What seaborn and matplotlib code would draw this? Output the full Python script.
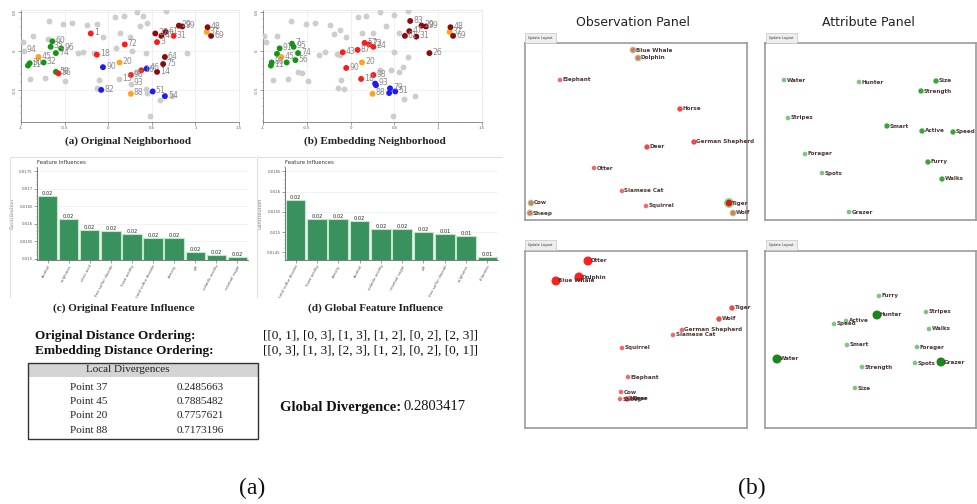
import numpy as np
import pandas as pd
import matplotlib
matplotlib.use("Agg")
import matplotlib.pyplot as plt
import seaborn as sns
from matplotlib.patches import Rectangle
from matplotlib.ticker import MultipleLocator

sns.set_theme(style="white")
plt.rcParams['font.family'] = ['DejaVu Sans']
SERIF = ['Liberation Serif', 'DejaVu Serif']

# ---------------- data: neighborhood scatter (a) ----------------
a_gray_x = [-0.68, -0.52, -0.42, -0.24, -0.13, 0.08, 0.18, 0.33, 0.40, 0.44, 0.36, 0.13, -0.06, 0.25,
            -0.86, -0.98, -0.69, -0.35, -0.29, -0.16, 0.09, 0.27, 0.43, 0.90, 0.66, -0.90, -0.73,
            -0.50, -0.11, 0.12, -0.13, -0.10, 0.43, 0.44, 0.73, 0.59, 0.48, 0.32, -0.97, 0.26]
a_gray_y = [0.38, 0.34, 0.36, 0.33, 0.34, 0.43, 0.44, 0.50, 0.44, 0.36, 0.31, 0.23, 0.18, 0.18,
            0.19, 0.11, 0.15, -0.03, -0.02, -0.03, 0.03, 0.0, -0.03, -0.03, 0.51, -0.36, -0.35,
            -0.39, -0.37, -0.36, -0.48, -0.49, -0.49, -0.54, -0.58, -0.63, -0.83, -0.27, 0.0, -0.42]
a_gray_lab = [""] * 29 + ["15"] + [""] * 8 + ["94", "93"]

a_x = [-0.64, -0.66, -0.54, -0.60, -0.90, -0.92, -0.74, -0.60,
       -0.20, 0.19, 0.56, 0.75, -0.13, 0.26, -0.57, 0.38,
       -0.80, 0.13, 0.26, 1.13,
       -0.06, -0.08, 0.44, 0.51, 0.65,
       0.54, 0.61, 0.66, 0.81, 0.85, 1.14, 1.18, 0.65, 0.63, 0.56]
a_y = [0.12, 0.05, 0.03, -0.03, -0.16, -0.19, -0.15, -0.27,
       0.22, 0.08, 0.11, 0.19, -0.05, -0.31, -0.29, -0.25,
       -0.08, -0.15, -0.55, 0.24,
       -0.21, -0.50, -0.23, -0.52, -0.58,
       0.22, 0.19, 0.24, 0.32, 0.31, 0.30, 0.19, -0.08, -0.17, -0.27]
a_grp = (["green"] * 8 + ["red"] * 8 + ["orange"] * 4 + ["blue"] * 5 + ["darkred"] * 10)
a_lab = ["60", "35", "96", "74", "30", "11", "32", "58",
         "1", "72", "3", "31", "18", "98", "56", "16",
         "45", "20", "88", "37",
         "90", "82", "46", "51", "54",
         "27", "47", "61", "29", "99", "48", "69", "64", "75", "14"]

# ---------------- data: neighborhood scatter (b) ----------------
b_gray_x = [-0.68, -0.51, -0.41, -0.23, -0.19, -0.12, -0.05, 0.08, 0.18, 0.33, 0.49, 0.40, 0.55, 0.65,
            0.50, 0.65, -0.36, -0.29, -0.16, -0.12, 0.13, 0.26, -0.97, -0.84, -0.99, -0.89, -0.71,
            -0.60, -0.56, -0.49, -0.11, -0.14, -0.08, 0.46, 0.55, 0.60, 0.61, 0.74, 0.48, 0.34]
b_gray_y = [0.38, 0.34, 0.36, 0.33, 0.21, 0.26, 0.17, 0.43, 0.44, 0.50, 0.45, 0.31, 0.22, 0.51,
            -0.01, -0.08, -0.05, -0.02, -0.04, -0.05, 0.23, 0.22, 0.11, 0.19, 0.19, -0.37, -0.36,
            -0.27, -0.29, -0.39, -0.38, -0.48, -0.49, -0.24, -0.27, -0.21, -0.62, -0.58, -0.83, -0.24]

b_x = [-0.81, -0.67, -0.65, -0.60, -0.84, -0.90, -0.91, -0.63, -0.73,
       -0.79, 0.13, 0.25, 1.13,
       -0.09, 0.16, 0.21, 0.26, 0.08, -0.05, 0.26, 0.12,
       0.28, 0.29, 0.45, 0.44, 0.51,
       0.68, 0.81, 0.86, 0.67, 0.62, 0.75, 1.14, 1.17, 0.90]
b_y = [0.03, 0.09, 0.05, -0.03, -0.04, -0.15, -0.19, -0.12, -0.15,
       -0.08, -0.15, -0.55, 0.24,
       -0.02, 0.10, 0.08, 0.05, 0.01, -0.22, -0.31, -0.36,
       -0.42, -0.44, -0.48, -0.54, -0.52,
       0.38, 0.32, 0.31, 0.25, 0.19, 0.18, 0.30, 0.19, -0.03]
b_grp = (["green"] * 9 + ["orange"] * 4 + ["red"] * 8 + ["blue"] * 5 + ["darkred"] * 9)
b_lab = ["91", "7", "95", "74", "", "80", "11", "56", "",
         "45", "20", "88", "37",
         "43", "57", "72", "24", "87", "90", "98", "18",
         "93", "", "79", "", "51",
         "83", "29", "99", "47", "61", "31", "48", "69", "26"]

# ---------------- data: feature influences ----------------
c_feat = ["alcohol", "sulphates", "citric acid", "free sulfur dioxide", "fixed acidity",
          "total sulfur dioxide", "density", "pH", "volatile acidity", "residual sugar"]
c_val = [0.01678, 0.01614, 0.01583, 0.01580, 0.01570, 0.01561, 0.01560, 0.01520, 0.01512, 0.01505]
c_lab = ["0.02"] * 10
c_ticks = [0.015, 0.0155, 0.016, 0.0165, 0.017, 0.0175]

d_feat = ["total sulfur dioxide", "fixed acidity", "density", "alcohol", "volatile acidity",
          "residual sugar", "pH", "free sulfur dioxide", "sulphates", "chlorides"]
d_val = [0.01579, 0.01533, 0.01533, 0.01528, 0.01507, 0.01507, 0.01501, 0.01495, 0.01490, 0.01439]
d_lab = ["0.02"] * 7 + ["0.01"] * 3
d_ticks = [0.0145, 0.015, 0.0155, 0.016, 0.0165]

orig_order = "[[0, 1], [0, 3], [1, 3], [1, 2], [0, 2], [2, 3]]"
emb_order = "[[0, 3], [1, 3], [2, 3], [1, 2], [0, 2], [0, 1]]"
div_points = ["Point 37", "Point 45", "Point 20", "Point 88"]
div_values = ["0.2485663", "0.7885482", "0.7757621", "0.7173196"]
global_div = "0.2803417"

# ---------------- data: observation / attribute panels ----------------
obs1_names = ["Blue Whale", "Dolphin", "Elephant", "Horse", "German Shepherd", "Deer", "Otter",
              "Siamese Cat", "Squirrel", "Cow", "Sheep", "Tiger", "Wolf"]
obs1_x = [108, 113, 35, 155, 169, 122, 69, 97, 121, 6, 5, 204, 208]
obs1_y = [7, 15, 37, 66, 99, 104, 125, 148, 163, 160, 170, 160, 170]
obs1_kind = ["light", "light", "light", "mid", "mid", "mid", "light", "light", "light",
             "light", "light", "dark", "light"]
obs1_ring = [1, 1, 0, 0, 0, 0, 0, 0, 0, 1, 1, 1, 1]

att1_names = ["Water", "Hunter", "Size", "Strength", "Stripes", "Smart", "Active", "Speed",
              "Forager", "Furry", "Spots", "Walks", "Grazer"]
att1_x = [19, 94, 171, 156, 23, 122, 157, 188, 40, 163, 57, 177, 84]
att1_y = [37, 39, 38, 48, 75, 83, 88, 89, 111, 119, 130, 136, 169]
att1_kind = ["light", "light", "mid", "mid", "light", "mid", "mid", "mid", "light", "mid",
             "light", "mid", "light"]

obs2_names = ["Otter", "Dolphin", "Blue Whale", "Tiger", "Wolf", "German Shepherd", "Siamese Cat",
              "Squirrel", "Elephant", "Cow", "Sheep", "Horse", "Deer"]
obs2_x = [63, 54, 31, 207, 194, 157, 148, 97, 103, 96, 95, 102, 105]
obs2_y = [10, 26, 30, 57, 68, 79, 84, 97, 126, 141, 148, 148, 147]
obs2_kind = ["big", "big", "big", "mid", "mid", "light", "light", "light", "light", "light",
             "light", "mid", "light"]

att2_names = ["Furry", "Hunter", "Stripes", "Speed", "Active", "Walks", "Smart", "Forager",
              "Water", "Spots", "Grazer", "Strength", "Size"]
att2_x = [114, 112, 161, 69, 81, 164, 82, 152, 12, 150, 176, 97, 90]
att2_y = [45, 64, 61, 73, 70, 78, 94, 96, 108, 112, 111, 116, 137]
att2_kind = ["light", "big", "light", "light", "light", "light", "light", "light", "big",
             "light", "big", "light", "light"]

# ---------------- figure ----------------
W, H = 977, 504
fig = plt.figure(figsize=(W / 100, H / 100), dpi=100)
fig.patch.set_facecolor("white")


def axpx(x0, y0, x1, y1):
    return fig.add_axes([x0 / W, 1 - y1 / H, (x1 - x0) / W, (y1 - y0) / H])


def ftext(x, y, s, **kw):
    return fig.text(x / W, 1 - y / H, s, **kw)


PAL = {"green": "#139413", "red": "#ff1a1a", "orange": "#ffa31a", "blue": "#1a1aff",
       "darkred": "#8b0a0a"}


def neighborhood(ax, gx, gy, glab, cx, cy, cg, clab):
    dg = pd.DataFrame({"x": gx, "y": gy, "lab": glab})
    dc = pd.DataFrame({"x": cx, "y": cy, "grp": cg, "lab": clab})
    sns.scatterplot(data=dg, x="x", y="y", color="#cdcdcd", s=18, linewidth=0, ax=ax, zorder=3)
    sns.scatterplot(data=dc, x="x", y="y", hue="grp", palette=PAL, s=18, linewidth=0,
                    legend=False, ax=ax, zorder=4)
    for d in (dg, dc):
        for _, r in d.iterrows():
            if r["lab"]:
                ax.annotate(r["lab"], (r["x"], r["y"]), xytext=(2.2, 0.6),
                            textcoords="offset points", fontsize=5.6, color="#8a8a8a",
                            va="center", ha="left", zorder=5)
    ax.set_xlim(-1, 1.5)
    ax.set_ylim(-0.91, 0.52)
    ax.set_xticks([-1, -0.5, 0, 0.5, 1, 1.5])
    ax.set_xticklabels(["-1", "-0.5", "0", "0.5", "1", "1.5"])
    ax.set_yticks([-0.5, 0, 0.5])
    ax.set_yticklabels(["-0.5", "0", "0.5"], rotation=90, va="center")
    ax.xaxis.set_minor_locator(MultipleLocator(0.1))
    ax.yaxis.set_minor_locator(MultipleLocator(0.1))
    ax.tick_params(axis="both", which="major", labelsize=2.8, length=2, width=0.4,
                   colors="#555555", pad=1, bottom=True, left=True)
    ax.tick_params(axis="both", which="minor", length=1, width=0.3, colors="#777777",
                   bottom=True, left=True)
    ax.grid(True, which="major", color="#ececec", linewidth=0.5, zorder=0)
    ax.set_axisbelow(True)
    for s in ["top", "right"]:
        ax.spines[s].set_color("#e4e4e4")
        ax.spines[s].set_linewidth(0.5)
    for s in ["left", "bottom"]:
        ax.spines[s].set_color("#666666")
        ax.spines[s].set_linewidth(0.5)
    ax.set_xlabel("")
    ax.set_ylabel("")


ax_a = axpx(21, 10, 239, 122)
neighborhood(ax_a, a_gray_x, a_gray_y, a_gray_lab, a_x, a_y, a_grp, a_lab)
ax_b = axpx(263, 10, 482, 122)
neighborhood(ax_b, b_gray_x, b_gray_y, [""] * len(b_gray_x), b_x, b_y, b_grp, b_lab)

cap_kw = dict(family=SERIF, fontsize=8, fontweight="bold", ha="center", va="center",
              color="#222222")
ftext(128, 141, "(a) Original Neighborhood", **cap_kw)
ftext(375, 141, "(b) Embedding Neighborhood", **cap_kw)


def influence(ax, feat, val, lab, ticks, ylim, frame_x):
    df = pd.DataFrame({"feature": feat, "value": val})
    sns.barplot(data=df, x="feature", y="value", color="#2aa05a", edgecolor="#bfe8c8",
                linewidth=0.8, width=0.92, ax=ax, zorder=3)
    for i, (v, t) in enumerate(zip(val, lab)):
        ax.text(i, v, t, ha="center", va="bottom", fontsize=3.6, color="#222222", zorder=4)
    ax.set_ylim(*ylim)
    ax.set_xlim(-0.5, len(feat) - 0.5)
    ax.set_yticks(ticks)
    ax.set_yticklabels([f"{t:g}" for t in ticks])
    ax.yaxis.set_minor_locator(MultipleLocator(0.0001))
    ax.tick_params(axis="y", which="major", labelsize=2.8, length=2, width=0.4, colors="#555555",
                   pad=1, left=True)
    ax.tick_params(axis="y", which="minor", length=1, width=0.3, colors="#666666", left=True)
    ax.tick_params(axis="x", labelsize=2.8, length=2, width=0.4, colors="#555555", pad=1,
                   bottom=True)
    plt.setp(ax.get_xticklabels(), rotation=62, ha="right", rotation_mode="anchor")
    ax.grid(True, axis="y", color="#ededed", linewidth=0.5, zorder=0)
    ax.set_axisbelow(True)
    for s in ["top", "right"]:
        ax.spines[s].set_visible(False)
    for s in ["left", "bottom"]:
        ax.spines[s].set_color("#444444")
        ax.spines[s].set_linewidth(0.5)
    ax.set_xlabel("")
    ax.set_ylabel("Contribution", fontsize=3.6, color="#777777", labelpad=3)
    ax.set_title("Feature Influences", fontsize=3.8, color="#333333", loc="left", pad=2)
    fig.add_artist(plt.Line2D([frame_x / W, frame_x / W], [1 - 157 / H, 1 - 297 / H],
                              color="#e0e0e0", lw=0.8))
    fig.add_artist(plt.Line2D([frame_x / W, (frame_x + 245) / W], [1 - 157 / H, 1 - 157 / H],
                              color="#e0e0e0", lw=0.8))


ax_c = axpx(37, 167, 248, 260)
influence(ax_c, c_feat, c_val, c_lab, c_ticks, (0.01497, 0.01762), 10)
ax_d = axpx(285, 167, 498, 260)
influence(ax_d, d_feat, d_val, d_lab, d_ticks, (0.01431, 0.01661), 257)

ftext(124, 308, "(c) Original Feature Influence", **cap_kw)
ftext(375, 308, "(d) Global Feature Influence", **cap_kw)

# distance orderings
ftext(35, 336, "Original Distance Ordering:", family=SERIF, fontsize=9.5, fontweight="bold",
      va="center", ha="left", color="#111111")
ftext(35, 351, "Embedding Distance Ordering:", family=SERIF, fontsize=9.5, fontweight="bold",
      va="center", ha="left", color="#111111")
ftext(263, 336, orig_order, family=SERIF, fontsize=9.5, va="center", ha="left", color="#111111")
ftext(263, 351, emb_order, family=SERIF, fontsize=9.5, va="center", ha="left", color="#111111")

# local divergence table
fig.add_artist(Rectangle((28 / W, 1 - 377 / H), 230 / W, 14 / H, transform=fig.transFigure,
                         facecolor="#d4d4d4", edgecolor="none"))
fig.add_artist(Rectangle((28 / W, 1 - 439 / H), 230 / W, 76 / H, transform=fig.transFigure,
                         facecolor="none", edgecolor="#333333", lw=1.0))
ftext(128, 370, "Local Divergences", family=SERIF, fontsize=8, ha="center", va="center",
      color="#222222")
for i, (p, v) in enumerate(zip(div_points, div_values)):
    yy = 387 + i * 14.5
    ftext(70, yy, p, family=SERIF, fontsize=8, ha="left", va="center", color="#222222")
    ftext(177, yy, v, family=SERIF, fontsize=8, ha="left", va="center", color="#222222")

ftext(280, 407, "Global Divergence:", family=SERIF, fontsize=10.5, fontweight="bold",
      ha="left", va="center", color="#111111")
ftext(404, 407, global_div, family=SERIF, fontsize=10.5, ha="left", va="center",
      color="#111111")

ftext(252, 488, "(a)", family=SERIF, fontsize=17, ha="center", va="center", color="#111111")
ftext(752, 488, "(b)", family=SERIF, fontsize=17, ha="center", va="center", color="#111111")

# ---------------- right: interactive panels ----------------
ftext(633, 22, "Observation Panel", fontsize=9, ha="center", va="center", color="#222222")
ftext(868, 22, "Attribute Panel", fontsize=9, ha="center", va="center", color="#222222")

OBS_COL = {"light": "#f26a6a", "mid": "#f04848", "dark": "#d41c1c", "big": "#ff1f1f"}
ATT_COL = {"light": "#79c879", "mid": "#3aa53a", "big": "#1b861b"}
SIZES = {"light": 11, "mid": 15, "dark": 24, "big": 42}


def button(x, y):
    fig.add_artist(Rectangle((x / W, 1 - (y + 10) / H), 31 / W, 10 / H,
                             transform=fig.transFigure, facecolor="#eeeeee",
                             edgecolor="#c4c4c4", lw=0.5))
    ftext(x + 15.5, y + 5, "Update Layout", fontsize=2.4, ha="center", va="center",
          color="#333333")


def panel(box, names, xs, ys, kinds, cmap, rings=None):
    x0, y0, x1, y1 = box
    ax = axpx(x0, y0, x1, y1)
    df = pd.DataFrame({"name": names, "x": xs, "y": ys, "kind": kinds})
    if rings is not None:
        dr = df[np.array(rings) == 1]
        sizes_r = [SIZES[k] * 2.2 for k in dr["kind"]]
        ax.scatter(dr["x"], dr["y"], s=sizes_r, color="#8fe08f", linewidth=0, zorder=2)
    sns.scatterplot(data=df, x="x", y="y", hue="kind", palette=cmap, size="kind",
                    sizes=SIZES, linewidth=0, legend=False, ax=ax, zorder=3)
    for _, r in df.iterrows():
        ax.annotate(r["name"], (r["x"], r["y"]), xytext=(1.8, 0), textcoords="offset points",
                    fontsize=4.1, color="#4e3434", va="center", ha="left", zorder=4,
                    fontweight="bold")
    ax.set_xlim(0, x1 - x0)
    ax.set_ylim(y1 - y0, 0)
    ax.set_xticks([])
    ax.set_yticks([])
    ax.set_xlabel("")
    ax.set_ylabel("")
    for s in ax.spines.values():
        s.set_color("#9a9a9a")
        s.set_linewidth(1.2)
    return ax


button(525, 33)
panel((525, 43, 747, 220), obs1_names, obs1_x, obs1_y, obs1_kind, OBS_COL, obs1_ring)
button(766, 33)
panel((765, 43, 976, 220), att1_names, att1_x, att1_y, att1_kind, ATT_COL)
button(525, 240)
panel((525, 251, 747, 428), obs2_names, obs2_x, obs2_y, obs2_kind, OBS_COL)
button(766, 240)
panel((765, 251, 976, 428), att2_names, att2_x, att2_y, att2_kind, ATT_COL)

fig.savefig("out.png", dpi=100, facecolor="white")
